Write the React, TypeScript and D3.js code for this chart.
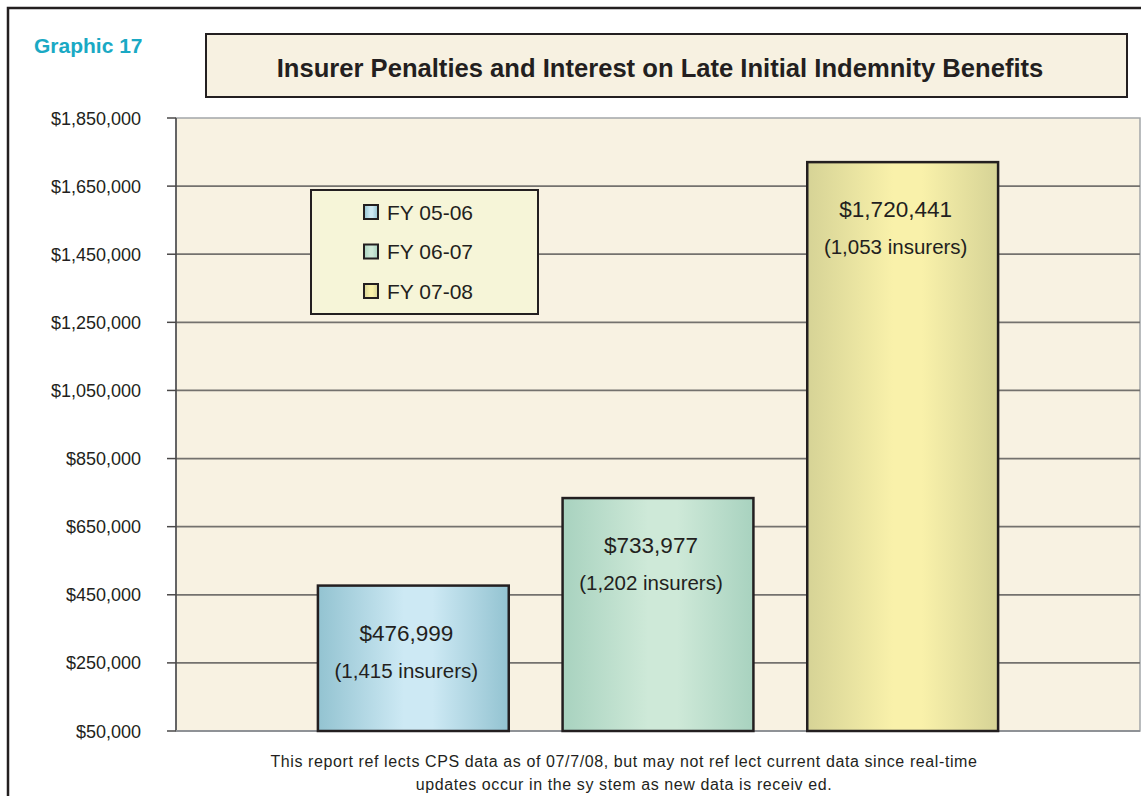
import React from 'react';
import * as d3 from 'd3';

const series = ['FY 05-06', 'FY 06-07', 'FY 07-08'];
const amounts = [476999, 733977, 1720441];
const insurers = [1415, 1202, 1053];
const yTicks = [50000, 250000, 450000, 650000, 850000, 1050000, 1250000, 1450000, 1650000, 1850000];
const footnote = [
  'This report ref lects CPS data as of 07/7/08, but may not ref lect current data since real-time',
  'updates occur in the sy stem as new data is receiv ed.',
];

// edge / middle colours of each bar's horizontal gradient
const barEdge = ['#93c3d1', '#a8d2bf', '#d6d396'];
const barMid = ['#cde9f4', '#cee9d8', '#f9f1aa'];

const W = 1141, H = 796;
const M = { top: 118, right: 1, bottom: 65, left: 176 };
const FONT = '"Liberation Sans", Arial, sans-serif';

export default function App() {
  const x = d3.scaleBand<string>()
    .domain(series)
    .range([M.left, W - M.right])
    .paddingInner(0.22)
    .paddingOuter(0.58);
  const y = d3.scaleLinear().domain([50000, 1850000]).range([H - M.bottom, M.top]);
  const fmtMoney = d3.format('$,');
  const fmtCount = d3.format(',');
  const plotBottom = y(50000);

  return (
    <div style={{ position: 'absolute', left: 0, top: 0 }}>
      <svg width={W} height={H} style={{ display: 'block', fontFamily: FONT }}>
        <defs>
          {series.map((s, i) => (
            <linearGradient key={s} id={`bar${i}`} x1="0" x2="1" y1="0" y2="0">
              <stop offset="0" stopColor={barEdge[i]} />
              <stop offset="0.45" stopColor={barMid[i]} />
              <stop offset="0.6" stopColor={barMid[i]} />
              <stop offset="1" stopColor={barEdge[i]} />
            </linearGradient>
          ))}
        </defs>
        <rect x={0} y={0} width={W} height={H} fill="#fff" />
        {/* outer frame */}
        <path d={`M8,${H} V8 H${W}`} fill="none" stroke="#231f20" strokeWidth={2.5} />

        <text x={34} y={53} fill="#1aa9c4" fontWeight="bold" fontSize={21}>Graphic 17</text>

        {/* title box */}
        <rect x={206} y={34} width={921} height={63} fill="#f7f1e1" stroke="#231f20" strokeWidth={2} />
        <text x={660} y={77} textAnchor="middle" fontWeight="bold" fontSize={25.6} fill="#231f20">
          Insurer Penalties and Interest on Late Initial Indemnity Benefits
        </text>

        {/* plot area */}
        <rect x={M.left} y={M.top} width={W - M.right - M.left} height={plotBottom - M.top}
          fill="#f8f2e2" stroke="#a3a6a9" strokeWidth={1.5} />

        {yTicks.map(t => (
          <g key={t}>
            {t > 50000 && t < 1850000 && (
              <line x1={M.left} x2={W - M.right} y1={y(t)} y2={y(t)} stroke="#74726e" strokeWidth={1.8} />
            )}
            <line x1={167} x2={M.left} y1={y(t)} y2={y(t)} stroke="#4a4848" strokeWidth={1.5} />
            <text x={141} y={y(t) + 6.5} textAnchor="end" fontSize={18} fill="#231f20">{fmtMoney(t)}</text>
          </g>
        ))}
        <line x1={M.left} x2={M.left} y1={M.top} y2={plotBottom} stroke="#4a4848" strokeWidth={1.5} />
        <line x1={M.left} x2={W - M.right} y1={plotBottom} y2={plotBottom} stroke="#8f9296" strokeWidth={2} />

        {series.map((s, i) => {
          const bx = x(s)!;
          const top = y(amounts[i]);
          const cx = bx + x.bandwidth() / 2 - 7;
          return (
            <g key={s}>
              <rect x={bx} y={top} width={x.bandwidth()} height={plotBottom - top}
                fill={`url(#bar${i})`} stroke="#231f20" strokeWidth={2.5} />
              <text x={cx} y={top + 55} textAnchor="middle" fontSize={22.5} fill="#231f20">{fmtMoney(amounts[i])}</text>
              <text x={cx} y={top + 92} textAnchor="middle" fontSize={20.5} fill="#231f20">({fmtCount(insurers[i])} insurers)</text>
            </g>
          );
        })}

        {/* legend */}
        <g>
          <rect x={311} y={190} width={227} height={124} fill="#f6f5d8" stroke="#231f20" strokeWidth={2} />
          {series.map((s, i) => {
            const cy = 212 + i * 39.5;
            return (
              <g key={s}>
                <rect x={364} y={cy - 7} width={14} height={14} fill={`url(#bar${i})`} stroke="#231f20" strokeWidth={2} />
                <text x={387} y={cy + 7.5} fontSize={21} fill="#231f20">{s}</text>
              </g>
            );
          })}
        </g>

        {footnote.map((line, i) => (
          <text key={i} x={624} y={767 + i * 23} textAnchor="middle" fontSize={16} letterSpacing={0.6} fill="#231f20">{line}</text>
        ))}
      </svg>
    </div>
  );
}
